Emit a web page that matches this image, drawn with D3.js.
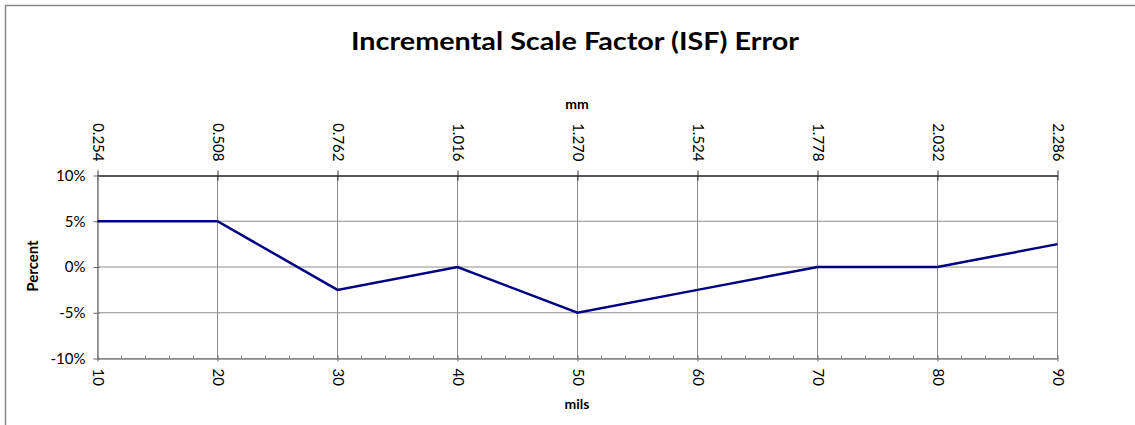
<!DOCTYPE html>
<html>
<head>
<meta charset="utf-8">
<script src="https://cdn.jsdelivr.net/npm/d3@7"></script>
<style>
  html, body { margin: 0; padding: 0; background: #fff; }
  svg { display: block; font-family: Lato, "Open Sans", sans-serif; }
</style>
</head>
<body>
<svg id="chart" width="1135" height="425"></svg>
<script>
// ---- data ----
const mils = [10, 20, 30, 40, 50, 60, 70, 80, 90];
const errorPct = [5, 5, -2.5, 0, -5, -2.5, 0, 0, 2.5];
const mmTicks = ["0.254", "0.508", "0.762", "1.016", "1.270", "1.524", "1.778", "2.032", "2.286"];
const yTicks = [-10, -5, 0, 5, 10];
const titleText = "Incremental Scale Factor (ISF) Error";

// ---- layout ----
const W = 1135, H = 425;
const L = 97.5, R = 1057.5, T = 175.5, B = 358.5;
const svg = d3.select("#chart");
const tickFont = "15px";

// outer frame (partial border)
svg.append("path")
  .attr("d", `M5.5,${H} V5.5 H${W}`)
  .attr("fill", "none").attr("stroke", "#888").attr("stroke-width", 1.5);

const x = d3.scaleLinear().domain([10, 90]).range([L, R]);
const xmm = d3.scaleLinear().domain([0.254, 2.286]).range([L, R]);
const y = d3.scaleLinear().domain([-10, 10]).range([B, T]);

// gridlines
svg.append("g").selectAll("line.v").data(mils).join("line")
  .attr("x1", d => x(d)).attr("x2", d => x(d)).attr("y1", T).attr("y2", B)
  .attr("stroke", "#8c8c8c").attr("stroke-width", 1);
svg.append("g").selectAll("line.h").data(yTicks).join("line")
  .attr("x1", L).attr("x2", R).attr("y1", d => y(d)).attr("y2", d => y(d))
  .attr("stroke", "#8c8c8c").attr("stroke-width", 1);

// bottom axis (mils)
const minor = d3.range(10, 90.001, 2).filter(v => !mils.includes(v));
svg.append("g").selectAll("line").data(minor).join("line")
  .attr("x1", d => x(d)).attr("x2", d => x(d)).attr("y1", B).attr("y2", B - 3)
  .attr("stroke", "#888");
const xAxis = svg.append("g").attr("transform", `translate(0,${B})`)
  .call(d3.axisBottom(x).tickValues(mils).tickFormat(d3.format("d")).tickSize(3).tickSizeOuter(0));
xAxis.select(".domain").attr("stroke", "#888").attr("stroke-width", 1.5);
xAxis.selectAll(".tick line").attr("stroke", "#666").attr("y1", -3);
xAxis.selectAll(".tick text")
  .attr("transform", "rotate(90)")
  .attr("x", 10).attr("y", 0).attr("dy", "0.35em")
  .attr("text-anchor", "start")
  .style("font-size", tickFont).style("font-family", "Lato, sans-serif").attr("fill", "#000");

// top axis (mm)
const mmVals = mmTicks.map(Number);
const topAxis = svg.append("g").attr("transform", `translate(0,${T})`)
  .call(d3.axisTop(xmm).tickValues(mmVals).tickFormat((d, i) => mmTicks[i]).tickSize(5).tickSizeOuter(0));
topAxis.select(".domain").attr("stroke", "#555").attr("stroke-width", 2);
topAxis.selectAll(".tick line").attr("stroke", "#333").attr("y1", 5);
topAxis.selectAll(".tick text")
  .attr("transform", "rotate(90)")
  .attr("x", -14).attr("y", 0).attr("dy", "0.35em")
  .attr("text-anchor", "end")
  .style("font-size", tickFont).style("font-family", "Lato, sans-serif").attr("fill", "#000");

// left axis (percent)
const yAxis = svg.append("g").attr("transform", `translate(${L},0)`)
  .call(d3.axisLeft(y).tickValues(yTicks).tickFormat(d => d + "%").tickSize(4).tickSizeOuter(0));
yAxis.select(".domain").attr("stroke", "#888").attr("stroke-width", 1.5);
yAxis.selectAll(".tick line").attr("stroke", "#666").attr("x1", 2);
yAxis.selectAll(".tick text").attr("x", -12)
  .style("font-size", tickFont).style("font-family", "Lato, sans-serif").attr("fill", "#000");

// data line
const line = d3.line().x((d, i) => x(mils[i])).y(d => y(d));
svg.append("path").datum(errorPct)
  .attr("d", line).attr("fill", "none")
  .attr("stroke", "#000080").attr("stroke-width", 2.5).attr("stroke-linejoin", "miter");

// titles
svg.append("text").attr("x", 575).attr("y", 50).attr("text-anchor", "middle")
  .attr("textLength", 448).attr("lengthAdjust", "spacingAndGlyphs")
  .style("font-size", "25px").style("font-weight", "bold").text(titleText);
svg.append("text").attr("x", 577).attr("y", 109).attr("text-anchor", "middle")
  .style("font-size", "14px").style("font-weight", "bold").text("mm");
svg.append("text").attr("x", 577).attr("y", 409).attr("text-anchor", "middle")
  .style("font-size", "14px").style("font-weight", "bold").text("mils");
svg.append("text").attr("transform", "translate(38,266) rotate(-90)").attr("text-anchor", "middle")
  .style("font-size", "15px").style("font-weight", "bold").text("Percent");
</script>
</body>
</html>
